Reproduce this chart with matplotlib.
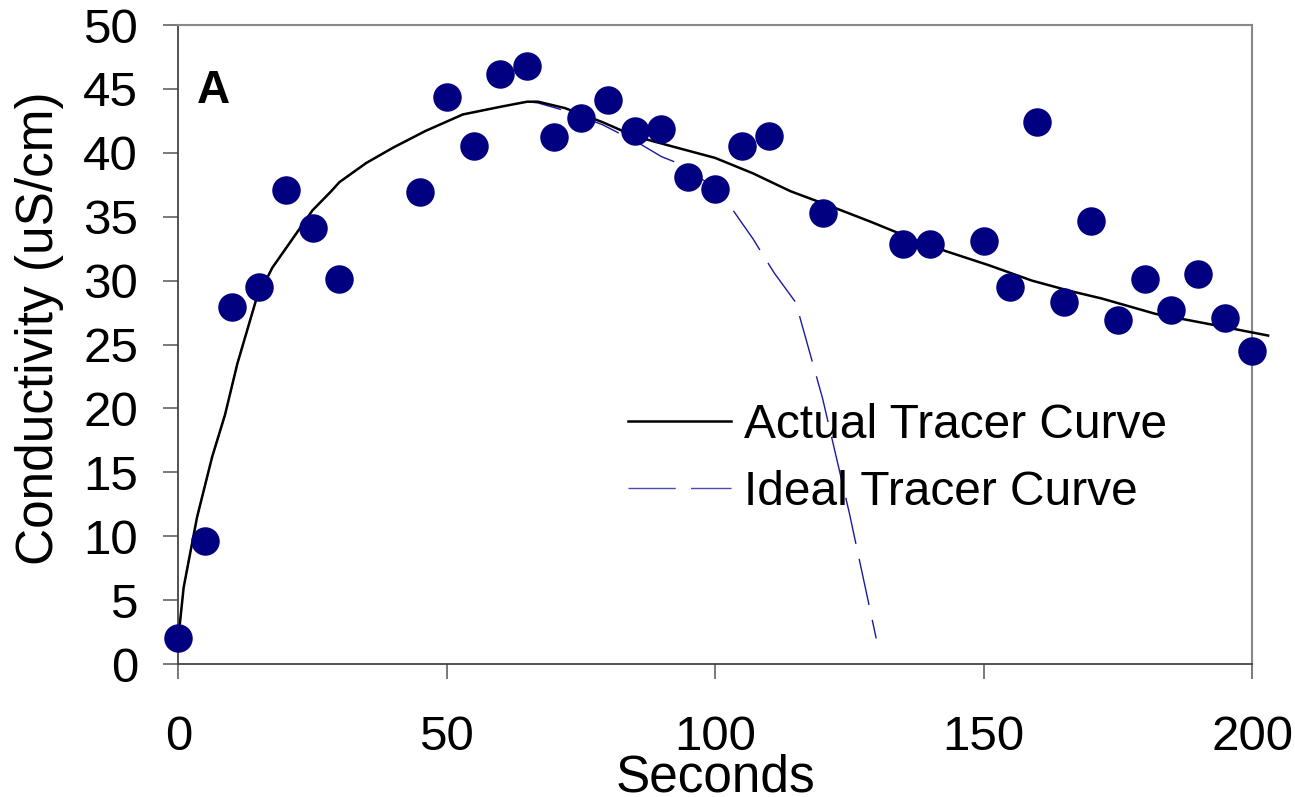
import matplotlib
matplotlib.use("Agg")
import matplotlib.pyplot as plt
from matplotlib.lines import Line2D

plt.rcParams['font.family'] = ['Liberation Sans', 'DejaVu Sans']

# Measured data points (seconds, conductivity)
obs_t = [0, 5, 10, 15, 20, 25, 30, 45, 50, 55, 60, 65, 70, 75, 80, 85, 90, 95,
         100, 105, 110, 120, 135, 140, 150, 155, 160, 165, 170, 175, 180, 185,
         190, 195, 200]
obs_c = [2.0, 9.6, 27.9, 29.5, 37.1, 34.1, 30.1, 36.9, 44.4, 40.5, 46.2, 46.8,
         41.2, 42.7, 44.1, 41.7, 41.9, 38.1, 37.2, 40.5, 41.3, 35.3, 32.9, 32.9,
         33.1, 29.5, 42.4, 28.3, 34.7, 26.9, 30.1, 27.7, 30.5, 27.1, 24.5]

# Actual tracer curve
act_t = [0, 1, 3.5, 6.3, 8.7, 11, 14.5, 17.5, 22, 25, 28.5, 30, 35, 40, 46,
         53, 60, 65, 67, 72, 79, 85, 92, 100, 107, 114, 121, 129, 136, 143,
         151, 159, 166, 172, 182, 192, 203]
act_c = [2.0, 6.0, 11.5, 16.2, 19.5, 23.5, 28.5, 31.0, 33.7, 35.5, 37.0, 37.7,
         39.2, 40.4, 41.7, 43.0, 43.6, 44.0, 44.0, 43.5, 42.4, 41.3, 40.5, 39.6,
         38.4, 37.0, 35.9, 34.6, 33.4, 32.3, 31.2, 30.0, 29.2, 28.6, 27.4,
         26.6, 25.7]

# Ideal tracer curve
ide_t = [0, 1, 3.5, 6.3, 8.7, 11, 14.5, 17.5, 22, 25, 28.5, 30, 35, 40, 46,
         53, 60, 65, 67, 72, 79, 86, 90, 93, 98, 102, 107, 111, 115, 120, 125,
         130]
ide_c = [2.0, 6.0, 11.5, 16.2, 19.5, 23.5, 28.5, 31.0, 33.7, 35.5, 37.0, 37.7,
         39.2, 40.4, 41.7, 43.0, 43.6, 44.0, 43.9, 43.3, 42.2, 40.7, 39.7, 39.2,
         37.8, 36.3, 33.3, 30.6, 28.3, 20.8, 11.8, 2.0]

x_ticks = [0, 50, 100, 150, 200]
y_ticks = [0, 5, 10, 15, 20, 25, 30, 35, 40, 45, 50]

fig = plt.figure(figsize=(12.95, 7.97), dpi=100)
ax = fig.add_axes([178.3 / 1295, 1 - 664 / 797, (1252 - 178.3) / 1295, (664 - 25) / 797])

navy = '#000080'
ax.plot(ide_t, ide_c, color='#1a1aa0', lw=1.0, dashes=(34, 11), zorder=2,
        label='Ideal Tracer Curve')
ax.plot(act_t, act_c, color='black', lw=1.8, zorder=3, clip_on=False,
        label='Actual Tracer Curve')
ax.plot(obs_t, obs_c, 'o', color=navy, ms=19.5, mec=navy, zorder=4, clip_on=False)

ax.set_xlim(0, 200)
ax.set_ylim(0, 50)
ax.set_xticks(x_ticks)
ax.set_yticks(y_ticks)

for s in ['top', 'right']:
    ax.spines[s].set_color('#888888')
    ax.spines[s].set_linewidth(1.5)
for s in ['left', 'bottom']:
    ax.spines[s].set_color('#444444')
    ax.spines[s].set_linewidth(1.3)

ax.tick_params(axis='both', direction='out', length=11, width=1.1, color='#555555',
               labelsize=35.5, labelcolor='black')
ax.tick_params(axis='x', pad=26)
ax.tick_params(axis='y', pad=18)

ax.set_xlabel('Seconds', fontsize=37)
ax.xaxis.set_label_coords(0.5, -0.200)
ax.xaxis.label.set_va('baseline')
ax.set_ylabel('Conductivity (uS/cm)', fontsize=37)
ax.yaxis.set_label_coords(-0.106, 0.525)

ax.text(3.5, 43.9, 'A', fontsize=33, fontweight='bold', ha='left', va='baseline')

handles = [Line2D([], [], color='black', lw=1.8),
           Line2D([], [], color='#4a4ab0', lw=1.0, dashes=(34, 11))]
leg = ax.legend(handles, ['Actual Tracer Curve', 'Ideal Tracer Curve'],
                loc='center left', bbox_to_anchor=(0.4188, 0.321),
                frameon=False, fontsize=34.5, handlelength=2.15, handletextpad=0.28,
                labelspacing=0.45, borderpad=0, borderaxespad=0)

fig.savefig('out.png', dpi=100, facecolor='white')
